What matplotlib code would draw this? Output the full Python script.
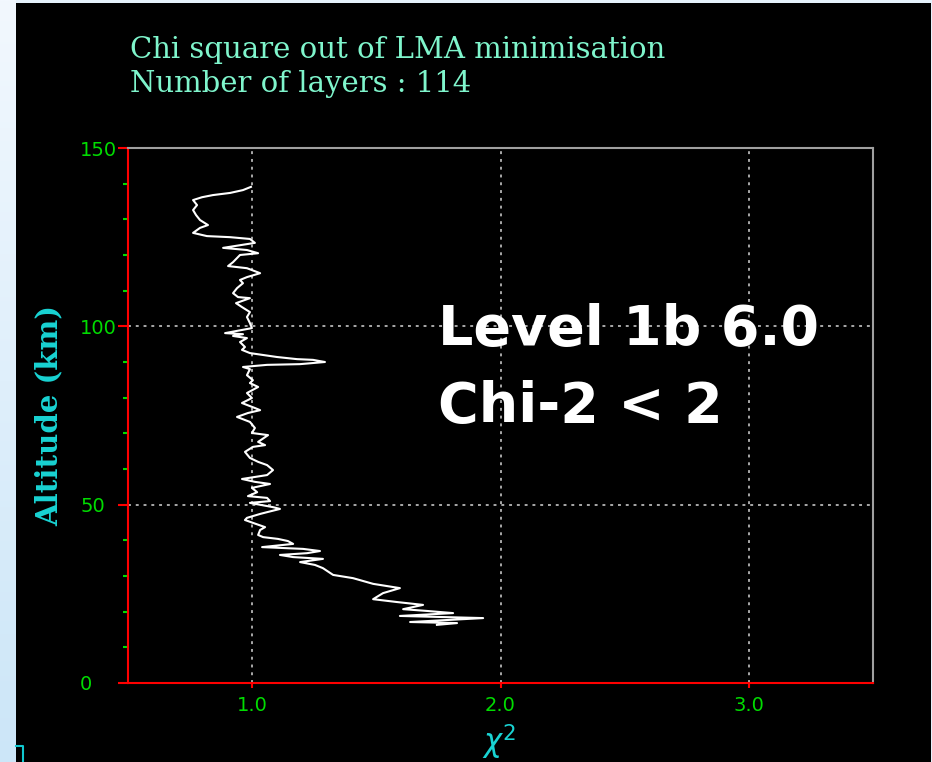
import numpy as np
import matplotlib
matplotlib.use('Agg')
import matplotlib.pyplot as plt
from matplotlib.lines import Line2D
from matplotlib.ticker import MultipleLocator
from matplotlib.colors import LinearSegmentedColormap

## Chi square profile (top to bottom)
alt_km = [139.1, 138.2, 137.4, 136.8, 136.2, 135.4, 134.0, 132.6, 131.2, 129.8,
          128.4, 127.6, 126.2, 125.3, 125.0, 124.5, 123.4, 122.0, 121.4, 120.5,
          120.0, 118.0, 116.9, 116.3, 114.9, 113.8, 113.0, 112.1, 110.7, 109.3,
          108.2, 107.9, 106.5, 105.4, 104.0, 102.6, 100.9, 99.5, 98.1, 97.8,
          97.3, 96.7, 95.6, 94.2, 93.4, 92.5, 91.4, 90.8, 90.6, 90.0,
          89.4, 89.2, 88.6, 88.0, 86.3, 84.9, 84.1, 83.0, 81.3, 79.9,
          78.5, 77.1, 76.5, 75.7, 74.6, 73.2, 71.5, 70.1, 69.5, 67.6,
          66.7, 66.2, 64.8, 63.1, 62.0, 61.1, 59.7, 58.3, 57.2, 56.4,
          55.8, 54.7, 53.5, 52.4, 51.9, 51.0, 50.5, 49.3, 48.8, 47.9,
          47.4, 46.3, 45.7, 44.9, 43.7, 42.9, 41.5, 40.9, 40.4, 39.8,
          39.0, 38.1, 37.6, 37.0, 36.4, 35.9, 35.3, 34.8, 33.9, 33.1,
          32.2, 30.3, 29.4, 27.8, 26.6, 25.2, 23.5, 22.7, 21.9, 20.7,
          20.2, 19.6, 18.8, 18.2, 17.1, 16.8, 16.3]
chi2 = [0.995, 0.963, 0.911, 0.842, 0.798, 0.762, 0.778, 0.762, 0.774, 0.790,
        0.822, 0.790, 0.762, 0.818, 0.911, 0.991, 1.011, 0.883, 0.979, 1.024,
        0.951, 0.923, 0.903, 0.979, 1.032, 0.979, 0.951, 0.963, 0.939, 0.923,
        0.943, 0.991, 0.935, 0.959, 0.991, 0.979, 0.991, 0.999, 0.891, 0.963,
        0.923, 0.979, 0.951, 0.971, 0.959, 0.991, 1.100, 1.181, 1.245, 1.293,
        1.193, 1.060, 0.963, 0.991, 0.979, 1.003, 0.991, 1.024, 0.979, 0.999,
        0.959, 1.011, 1.032, 0.983, 0.939, 0.991, 1.011, 0.999, 1.064, 1.024,
        1.052, 1.003, 0.971, 0.991, 1.024, 1.060, 1.084, 1.060, 0.959, 1.011,
        1.072, 0.999, 1.020, 0.983, 1.060, 1.072, 0.991, 1.084, 1.112, 1.060,
        1.032, 0.979, 0.971, 1.003, 1.052, 1.032, 1.024, 1.044, 1.104, 1.144,
        1.165, 1.040, 1.205, 1.273, 1.221, 1.112, 1.165, 1.285, 1.193, 1.253,
        1.285, 1.326, 1.406, 1.487, 1.595, 1.527, 1.487, 1.583, 1.688, 1.608,
        1.704, 1.809, 1.595, 1.930, 1.636, 1.825, 1.744]

x_major = [1.0, 2.0, 3.0]
x_labels = ['1.0', '2.0', '3.0']
y_major = [0, 50, 100, 150]
y_labels = ['0', '50', '100', '150']

title_lines = ['Chi square out of LMA minimisation', 'Number of layers : 114']
note_lines = ['Level 1b 6.0', 'Chi-2 < 2']

W, H = 932, 762
fig = plt.figure(figsize=(W / 100, H / 100), dpi=100)
fig.patch.set_facecolor('#e6f2fc')

## light blue gradient strip on the left
strip = fig.add_axes([0, 0, 16 / W, 1], zorder=-2)
grad = np.linspace(0, 1, 256).reshape(-1, 1)
cm = LinearSegmentedColormap.from_list('strip', ['#f2f8fe', '#cce6f8'])
strip.imshow(grad, aspect='auto', cmap=cm, extent=[0, 1, 0, 1])
strip.axis('off')

## black slide area
bg = fig.add_axes([16 / W, 0, 1 - 17 / W, (H - 3) / H], zorder=-1)
bg.set_facecolor('black')
bg.set_xticks([])
bg.set_yticks([])
for s in bg.spines.values():
    s.set_visible(False)

## small cyan bracket bottom-left
fig.lines.append(Line2D([16 / W, 23 / W, 23 / W], [(H - 746) / H, (H - 746) / H, 0],
                        transform=fig.transFigure, color='#10c8d0', lw=1.5))

ax = fig.add_axes([128 / W, (H - 683) / H, 745 / W, 535 / H])
ax.set_facecolor('black')
ax.plot(chi2, alt_km, color='white', lw=1.5, zorder=3)

ax.set_xlim(0.5, 3.5)
ax.set_ylim(0, 150)

ax.set_xticks(x_major)
ax.set_xticklabels(x_labels)
ax.set_yticks(y_major)
ax.set_yticklabels(y_labels)
ax.xaxis.set_minor_locator(MultipleLocator(0.2))
ax.yaxis.set_minor_locator(MultipleLocator(10))

green = '#00dc00'
ax.tick_params(axis='x', which='major', direction='out', length=3.5, width=1.5,
               color='#ff0000', labelcolor=green, labelsize=14, pad=6)
ax.tick_params(axis='y', which='major', direction='out', length=7, width=1.5,
               color='#ff0000', labelcolor=green, labelsize=14, pad=27.5)
ax.tick_params(axis='x', which='minor', direction='inout', length=2, width=1.5, color=green)
ax.tick_params(axis='y', which='minor', direction='out', length=3.5, width=1.5, color=green)
for lab in ax.get_yticklabels():
    lab.set_horizontalalignment('left')

for side in ['left', 'bottom']:
    ax.spines[side].set_color('#ff0000')
    ax.spines[side].set_linewidth(1.5)
for side in ['top', 'right']:
    ax.spines[side].set_color('#a0a0a0')
    ax.spines[side].set_linewidth(1.5)

## dotted grid at major positions
for xv in x_major:
    ax.axvline(xv, color='#a8a8a8', lw=1.4, ls=(0, (1.5, 2.5)), zorder=1)
for yv in [50, 100]:
    ax.axhline(yv, color='#a8a8a8', lw=1.4, ls=(0, (1.5, 2.5)), zorder=1)

ax.set_ylabel('Altitude (km)', color='#19d3d3', fontsize=21, fontweight='bold',
              family='DejaVu Serif', labelpad=12)

fig.text(499 / W, 10 / H, r'$\chi^2$', color='#19d3d3', fontsize=22,
         ha='center', va='baseline')

## title lines
fig.text(130 / W, (H - 58) / H, title_lines[0], color='#7ff5cc', fontsize=21,
         family='DejaVu Serif', ha='left', va='baseline')
fig.text(130 / W, (H - 92) / H, title_lines[1], color='#7ff5cc', fontsize=21,
         family='DejaVu Serif', ha='left', va='baseline')

## annotation
fig.text(438 / W, (H - 345) / H, note_lines[0], color='white', fontsize=40,
         fontweight='bold', ha='left', va='baseline')
fig.text(438 / W, (H - 422) / H, note_lines[1], color='white', fontsize=40,
         fontweight='bold', ha='left', va='baseline')

fig.savefig('out.png', dpi=100, facecolor=fig.get_facecolor())
